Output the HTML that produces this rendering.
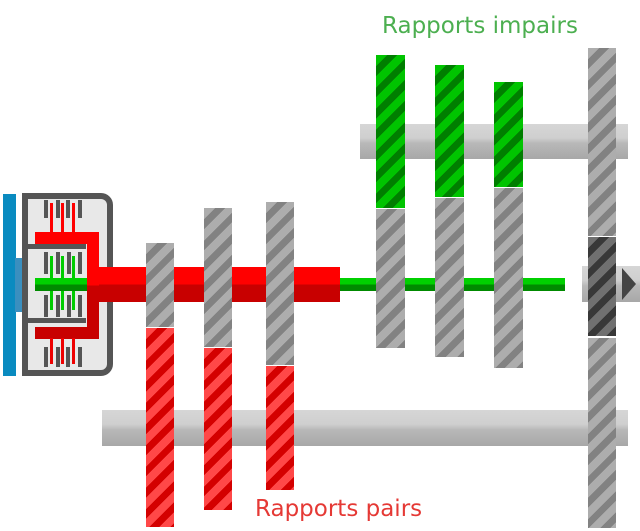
<!DOCTYPE html>
<html><head><meta charset="utf-8"><style>
body{margin:0;width:640px;height:531px;background:#fff;position:relative;overflow:hidden;font-family:"DejaVu Sans","Liberation Sans",sans-serif}
div{position:absolute;box-sizing:border-box}
.g{background:repeating-linear-gradient(135deg,#adadad 0 8px,#828282 8px 15px)}
.r{background:repeating-linear-gradient(135deg,#ff4848 0 8px,#d40000 8px 15px)}
.v{background:repeating-linear-gradient(135deg,#00c400 0 8px,#007e00 8px 15px)}
.d{background:repeating-linear-gradient(135deg,#707070 0 8px,#383838 8px 15px)}
.sh{background:linear-gradient(#d6d6d6 0%,#cfcfcf 40%,#b8b8b8 55%,#a8a8a8 100%)}
.t{font-size:23px;white-space:nowrap}
</style></head><body>
<div class="t" style="left:382px;top:13px;color:#4caf50">Rapports impairs</div>
<div class="t" style="left:255px;top:496px;color:#e53935">Rapports pairs</div>

<div class="sh" style="left:360px;top:124px;width:268px;height:35px"></div>
<div class="sh" style="left:102px;top:410px;width:526px;height:36px"></div>
<div class="sh" style="left:582px;top:266px;width:58px;height:36px"></div>
<div style="left:622px;top:268px;width:0;height:0;border-top:16px solid transparent;border-bottom:16px solid transparent;border-left:14px solid #444"></div>

<!-- clutch -->
<div style="left:3px;top:194px;width:13px;height:182px;background:#0a8bc0"></div>
<div style="left:15px;top:258px;width:9px;height:54px;background:#3a8fbf"></div>
<div style="left:22px;top:193px;width:91px;height:183px;background:#e8e8e8;border:6px solid #555;border-radius:0 12px 12px 0"></div>

<div style="left:35px;top:278px;width:530px;height:13px;background:linear-gradient(#00d000 0 45%,#008a00 55%)"></div>
<div style="left:97px;top:267px;width:243px;height:35px;background:linear-gradient(#ff0000 0 50%,#c80000 50%)"></div>

<div style="left:28px;top:244px;width:58px;height:5px;background:#555"></div>
<div style="left:28px;top:318px;width:58px;height:5px;background:#555"></div>
<div style="left:35px;top:232px;width:64px;height:12px;background:#f00"></div>
<div style="left:35px;top:327px;width:64px;height:12px;background:#c80000"></div>
<div style="left:87px;top:232px;width:12px;height:107px;background:linear-gradient(#f00 50%,#c80000 50%)"></div>
<div style="left:44px;top:200px;width:38px;height:18px;border-left:4px solid #555;border-right:4px solid #555"></div>
<div style="left:56px;top:200px;width:4px;height:18px;background:#555"></div><div style="left:66px;top:200px;width:4px;height:18px;background:#555"></div>
<div style="left:50px;top:203px;width:3px;height:30px;background:#f00"></div><div style="left:61px;top:203px;width:3px;height:30px;background:#f00"></div><div style="left:72px;top:203px;width:3px;height:30px;background:#f00"></div>
<div style="left:44px;top:347px;width:38px;height:20px;border-left:4px solid #555;border-right:4px solid #555"></div>
<div style="left:56px;top:347px;width:4px;height:20px;background:#555"></div><div style="left:66px;top:347px;width:4px;height:20px;background:#555"></div>
<div style="left:50px;top:338px;width:3px;height:26px;background:#e00"></div><div style="left:61px;top:338px;width:3px;height:26px;background:#e00"></div><div style="left:72px;top:338px;width:3px;height:26px;background:#e00"></div>
<div style="left:44px;top:252px;width:4px;height:22px;background:#555"></div><div style="left:56px;top:252px;width:4px;height:22px;background:#555"></div><div style="left:67px;top:252px;width:4px;height:22px;background:#555"></div><div style="left:78px;top:252px;width:4px;height:22px;background:#555"></div>
<div style="left:44px;top:295px;width:4px;height:22px;background:#555"></div><div style="left:56px;top:295px;width:4px;height:22px;background:#555"></div><div style="left:67px;top:295px;width:4px;height:22px;background:#555"></div><div style="left:78px;top:295px;width:4px;height:22px;background:#555"></div>
<div style="left:50px;top:256px;width:3px;height:54px;background:#0c0"></div><div style="left:61px;top:256px;width:3px;height:54px;background:#0c0"></div><div style="left:72px;top:256px;width:3px;height:54px;background:#0c0"></div>
<div style="left:35px;top:278px;width:52px;height:13px;background:linear-gradient(#00d000 0 45%,#008a00 55%)"></div>

<!-- even gears -->
<div class="g" style="left:146px;top:243px;width:28px;height:84px"></div>
<div class="r" style="left:146px;top:328px;width:28px;height:199px"></div>
<div class="g" style="left:204px;top:208px;width:28px;height:139px"></div>
<div class="r" style="left:204px;top:348px;width:28px;height:162px"></div>
<div class="g" style="left:266px;top:202px;width:28px;height:163px"></div>
<div class="r" style="left:266px;top:366px;width:28px;height:124px"></div>
<!-- odd gears -->
<div class="v" style="left:376px;top:55px;width:29px;height:153px"></div>
<div class="g" style="left:376px;top:209px;width:29px;height:139px"></div>
<div class="v" style="left:435px;top:65px;width:29px;height:132px"></div>
<div class="g" style="left:435px;top:198px;width:29px;height:159px"></div>
<div class="v" style="left:494px;top:82px;width:29px;height:105px"></div>
<div class="g" style="left:494px;top:188px;width:29px;height:180px"></div>
<!-- output -->
<div class="g" style="left:588px;top:48px;width:28px;height:188px"></div>
<div class="d" style="left:588px;top:237px;width:28px;height:99px"></div>
<div class="g" style="left:588px;top:338px;width:28px;height:190px"></div>
</body></html>
